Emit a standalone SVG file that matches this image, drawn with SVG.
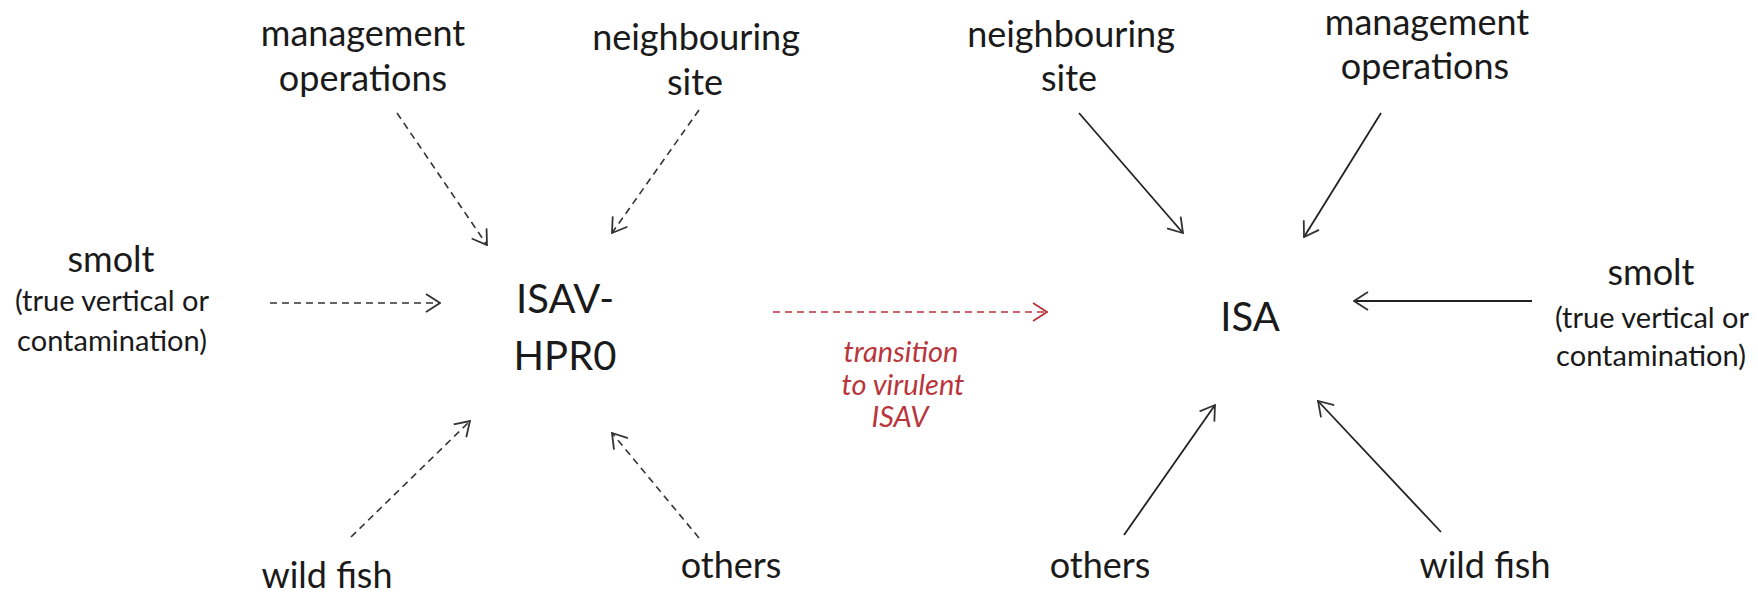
<svg xmlns="http://www.w3.org/2000/svg" width="1758" height="595" viewBox="0 0 1758 595">
<defs>
<style>
.t{font-family:Lato,"Open Sans","Liberation Sans",sans-serif;font-size:36px;fill:#1a1a1a;text-anchor:middle}
.s{font-size:29px}
.big{font-size:40px}
.red{font-size:29px;font-style:italic;fill:#b8353c}
.d{stroke:#333;stroke-width:1.6;stroke-dasharray:7 5;fill:none}
.l{stroke:#222;stroke-width:1.8;fill:none}
.rd{stroke:#b8353c;stroke-width:1.6;stroke-dasharray:7 5;fill:none}
</style>
<marker id="ah" markerUnits="userSpaceOnUse" viewBox="0 0 16 20" markerWidth="16" markerHeight="20" refX="15" refY="10" orient="auto">
<path d="M1,1 L15,10 L1,19" fill="none" stroke="#333" stroke-width="1.8"/>
</marker>
<marker id="ahr" markerUnits="userSpaceOnUse" viewBox="0 0 16 20" markerWidth="16" markerHeight="20" refX="15" refY="10" orient="auto">
<path d="M1,1 L15,10 L1,19" fill="none" stroke="#b8353c" stroke-width="1.8"/>
</marker>
</defs>
<rect width="1758" height="595" fill="#fff"/>

<g id="connectors">
<line class="d" x1="397" y1="113" x2="487" y2="245" marker-end="url(#ah)"/>
<line class="d" x1="699" y1="110" x2="612" y2="233" marker-end="url(#ah)"/>
<line class="d" x1="270" y1="303" x2="440" y2="303" marker-end="url(#ah)"/>
<line class="d" x1="351" y1="537" x2="470" y2="421" marker-end="url(#ah)"/>
<line class="d" x1="699" y1="538" x2="612" y2="433" marker-end="url(#ah)"/>
<line class="rd" x1="773" y1="312" x2="1047" y2="312" marker-end="url(#ahr)"/>
<line class="l" x1="1079" y1="113" x2="1183" y2="233" marker-end="url(#ah)"/>
<line class="l" x1="1381" y1="113" x2="1304" y2="237" marker-end="url(#ah)"/>
<line class="l" x1="1532" y1="301" x2="1354" y2="301" marker-end="url(#ah)"/>
<line class="l" x1="1124" y1="535" x2="1215" y2="405" marker-end="url(#ah)"/>
<line class="l" x1="1441" y1="532" x2="1318" y2="401" marker-end="url(#ah)"/>
</g>

<g id="transition-label">
<text class="t red" x="901" y="362">transition</text>
<text class="t red" x="903" y="395">to virulent</text>
<text class="t red" x="900" y="427">ISAV</text>
</g>

<g id="isav-hpr0">
<text class="t big" x="565" y="313">ISAV-</text>
<text class="t big" x="565" y="370">HPR0</text>
</g>

<g id="isa">
<text class="t big" x="1250" y="331">ISA</text>
</g>

<g id="left-management">
<text class="t" x="363" y="46">management</text>
<text class="t" x="363" y="91">operations</text>
</g>
<g id="left-neighbouring">
<text class="t" x="696" y="50">neighbouring</text>
<text class="t" x="695" y="95">site</text>
</g>
<g id="left-smolt">
<text class="t" x="111" y="272">smolt</text>
<text class="t s" x="112" y="311">(true vertical or</text>
<text class="t s" x="112" y="351">contamination)</text>
</g>
<g id="left-wildfish">
<text class="t" x="327" y="588">wild fish</text>
</g>
<g id="left-others">
<text class="t" x="731" y="578">others</text>
</g>

<g id="right-neighbouring">
<text class="t" x="1071" y="47">neighbouring</text>
<text class="t" x="1069" y="91">site</text>
</g>
<g id="right-management">
<text class="t" x="1427" y="35">management</text>
<text class="t" x="1425" y="79">operations</text>
</g>
<g id="right-smolt">
<text class="t" x="1651" y="285">smolt</text>
<text class="t s" x="1652" y="328">(true vertical or</text>
<text class="t s" x="1651" y="366">contamination)</text>
</g>
<g id="right-others">
<text class="t" x="1100" y="578">others</text>
</g>
<g id="right-wildfish">
<text class="t" x="1485" y="578">wild fish</text>
</g>
</svg>
